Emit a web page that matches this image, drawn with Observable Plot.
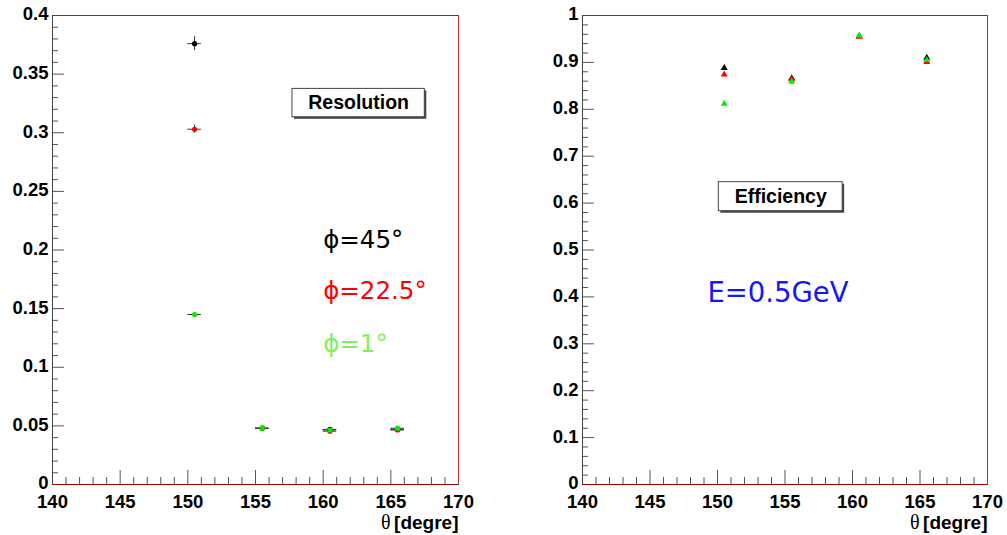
<!DOCTYPE html>
<html>
<head>
<meta charset="utf-8">
<script src="https://cdn.jsdelivr.net/npm/d3@7"></script>
<script src="https://cdn.jsdelivr.net/npm/@observablehq/plot@0.6"></script>
<style>
  html, body { margin: 0; padding: 0; background: white; }
  #wrap { position: relative; width: 1007px; height: 535px; }
  #left, #right { position: absolute; top: 0; }
  #left { left: 0; }
  #right { left: 503px; }
</style>
</head>
<body>
<div id="wrap"><div id="left"></div><div id="right"></div></div>
<script>
// ---- data ----
const theta = [150.5, 155.5, 160.5, 165.5];
const thetaHalfWidth = [0.5, 0.5, 0.5, 0.5];

const res45  = [0.376, 0.048, 0.047, 0.047];
const res225 = [0.303, 0.048, 0.0455, 0.0465];
const res1   = [0.145, 0.048, 0.0465, 0.048];
const resErr45  = [0.006, 0.0015, 0.001, 0.001];
const resErr225 = [0.0035, 0.0012, 0.001, 0.001];
const resErr1   = [0.001, 0.001, 0.001, 0.001];

const eff45  = [0.888, 0.866, 0.956, 0.910];
const eff225 = [0.874, 0.864, 0.955, 0.901];
const eff1   = [0.812, 0.859, 0.957, 0.905];

const seriesNames  = ["ϕ=45°", "ϕ=22.5°", "ϕ=1°"];
const markerColors = ["#000000", "#ff0000", "#00ee00"];
const labelColors  = ["#000000", "#ff0000", "#80f060"];

const xMajorTicks = [140, 145, 150, 155, 160, 165, 170];
const xMinorTicks = d3.range(141, 170).filter(v => v % 5 !== 0);
const resMajorTicks = [0, 0.05, 0.1, 0.15, 0.2, 0.25, 0.3, 0.35, 0.4];
const resMinorTicks = d3.range(1, 40).filter(i => i % 5 !== 0).map(i => i / 100);
const effMajorTicks = [0, 0.1, 0.2, 0.3, 0.4, 0.5, 0.6, 0.7, 0.8, 0.9, 1];
const effMinorTicks = d3.range(1, 50).filter(i => i % 5 !== 0).map(i => i / 50);

// ---- tables ----
const resErrs = [resErr45, resErr225, resErr1];
const resVals = [res45, res225, res1];
const effVals = [eff45, eff225, eff1];
const resRows = [], effRows = [];
for (let s = 0; s < 3; s++) {
  for (let i = 0; i < theta.length; i++) {
    resRows.push({s, x: theta[i], dx: thetaHalfWidth[i], v: resVals[s][i], e: resErrs[s][i], c: markerColors[s]});
    effRows.push({s, x: theta[i], v: effVals[s][i], c: markerColors[s]});
  }
}

const H = 535, MT = 15, MB = 51;
const FH = H - MT - MB;
const tickFont = "Liberation Sans, Arial, Helvetica, sans-serif";

function axesMarks(FW, yMajor, yMinor) {
  return [
    Plot.tickX(xMinorTicks, {x: d => d, insetTop: FH - 7, stroke: "#555"}),
    Plot.tickX(xMajorTicks, {x: d => d, insetTop: FH - 14, stroke: "#555"}),
    Plot.tickY(yMinor, {y: d => d, insetRight: FW - 6, stroke: "#555"}),
    Plot.tickY(yMajor, {y: d => d, insetRight: FW - 12, stroke: "#555"}),
    Plot.text(xMajorTicks, {x: d => d, frameAnchor: "bottom", text: d => String(d), lineAnchor: "top", dy: 10, fontSize: 18.5, fontWeight: "bold", fill: "black", fontFamily: tickFont}),
    Plot.text(yMajor, {y: d => d, frameAnchor: "left", text: d => String(d), textAnchor: "end", dx: -4, dy: -1, fontSize: 18.5, fontWeight: "bold", fill: "black", fontFamily: tickFont}),
    Plot.frame({stroke: "#444"}),
    Plot.ruleY([0], {stroke: "#a00000"}),
    Plot.ruleX([170], {stroke: "#c03030"}),
    Plot.text(["[degre]"], {text: d => d, frameAnchor: "bottom-right", textAnchor: "end", lineAnchor: "bottom", dy: 44, fontSize: 19, fontWeight: "bold", fill: "black", fontFamily: tickFont}),
    Plot.text(["θ"], {text: d => d, frameAnchor: "bottom-right", textAnchor: "end", lineAnchor: "bottom", dy: 44, dx: -68, fontSize: 20, fontFamily: "Liberation Serif, Times New Roman, serif", fill: "black"})
  ];
}

function pave(label, x1, x2, y1, y2) {
  return [
    Plot.rect([0], {x1: () => x1, x2: () => x2, y1: () => y1, y2: () => y2, fill: "#444", dx: 2, dy: 2}),
    Plot.rect([0], {x1: () => x1, x2: () => x2, y1: () => y1, y2: () => y2, fill: "white", stroke: "#444"}),
    Plot.text([label], {x: () => (x1 + x2) / 2, y: () => (y1 + y2) / 2, text: d => d, fontSize: 19.5, fontWeight: "bold", fill: "black", fontFamily: tickFont})
  ];
}

// ---- left: Resolution ----
const W1 = 503, ML1 = 52, MR1 = 45;
const left = Plot.plot({
  width: W1, height: H, marginLeft: ML1, marginRight: MR1, marginTop: MT, marginBottom: MB,
  x: {domain: [140, 170], axis: null},
  y: {domain: [0, 0.4], axis: null},
  style: {fontFamily: tickFont, background: "white", overflow: "visible"},
  marks: [
    ...axesMarks(W1 - ML1 - MR1, resMajorTicks, resMinorTicks),
    Plot.ruleY(resRows, {y: "v", x1: d => d.x - d.dx, x2: d => d.x + d.dx, stroke: "#333", strokeWidth: 1}),
    Plot.ruleX(resRows, {x: "x", y1: d => d.v - d.e, y2: d => d.v + d.e, stroke: "#333", strokeWidth: 1}),
    Plot.dot(resRows, {x: "x", y: "v", r: 2.6, fill: "c", stroke: null}),
    ...pave("Resolution", 157.73, 167.51, 0.3132, 0.3374),
    Plot.text([0, 1, 2], {x: () => 160.0, y: i => [0.2014, 0.1582, 0.1132][i], text: i => seriesNames[i], fill: i => labelColors[i], textAnchor: "start", lineAnchor: "bottom", fontSize: 24.5, fontFamily: "DejaVu Sans, sans-serif"})
  ]
});
document.getElementById("left").appendChild(left);

// ---- right: Efficiency ----
const W2 = 504, ML2 = 79, MR2 = 20;
const right = Plot.plot({
  width: W2, height: H, marginLeft: ML2, marginRight: MR2, marginTop: MT, marginBottom: MB,
  x: {domain: [140, 170], axis: null},
  y: {domain: [0, 1], axis: null},
  style: {fontFamily: tickFont, background: "white", overflow: "visible"},
  marks: [
    ...axesMarks(W2 - ML2 - MR2, effMajorTicks, effMinorTicks),
    Plot.dot(effRows, {x: "x", y: "v", r: 2.6, symbol: "triangle", fill: "c", stroke: null}),
    ...pave("Efficiency", 150.1, 159.27, 0.5827, 0.6446),
    Plot.text(["E=0.5GeV"], {x: () => 149.25, y: () => 0.3887, text: d => d, fill: "#1515ff", textAnchor: "start", lineAnchor: "bottom", fontSize: 27.5, fontFamily: "DejaVu Sans, sans-serif"})
  ]
});
document.getElementById("right").appendChild(right);
</script>
</body>
</html>
